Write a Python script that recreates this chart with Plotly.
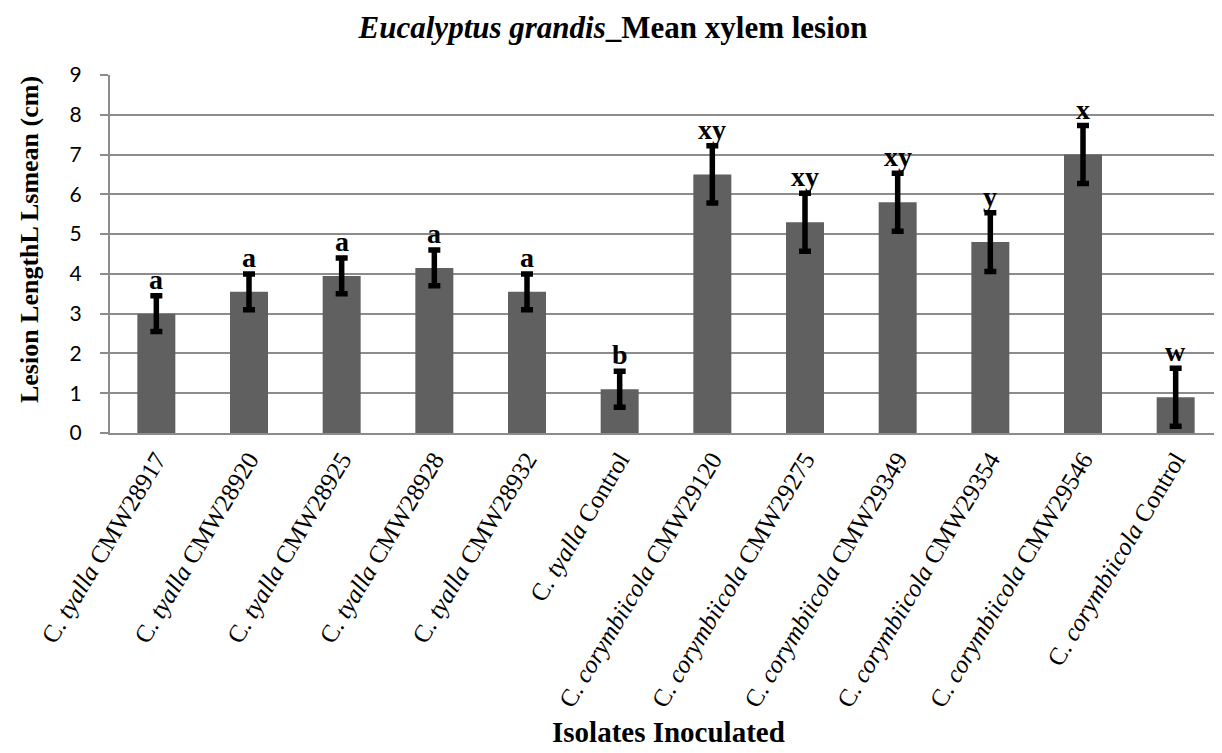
import plotly.graph_objects as go

categories = [
    "C. <i>tyalla</i> CMW28917", "C. <i>tyalla</i> CMW28920", "C. <i>tyalla</i> CMW28925",
    "C. <i>tyalla</i> CMW28928", "C. <i>tyalla</i> CMW28932", "C. <i>tyalla</i> Control",
    "C. <i>corymbiicola</i> CMW29120", "C. <i>corymbiicola</i> CMW29275",
    "C. <i>corymbiicola</i> CMW29349", "C. <i>corymbiicola</i> CMW29354",
    "C. <i>corymbiicola</i> CMW29546", "C. <i>corymbiicola</i> Control",
]
means = [3.0, 3.55, 3.95, 4.15, 3.55, 1.1, 6.5, 5.3, 5.8, 4.8, 7.0, 0.9]
errors = [0.45, 0.45, 0.45, 0.45, 0.45, 0.45, 0.72, 0.73, 0.73, 0.74, 0.73, 0.73]
letters = ["a", "a", "a", "a", "a", "b", "xy", "xy", "xy", "y", "x", "w"]
y_ticks = [0, 1, 2, 3, 4, 5, 6, 7, 8, 9]

serif = "Liberation Serif, Times New Roman, serif"

fig = go.Figure()
fig.add_trace(go.Bar(
    x=categories, y=means,
    marker=dict(color="#606060", line=dict(width=0)),
    width=0.41,
    error_y=dict(type="data", array=errors, visible=True,
                 color="black", thickness=5.5, width=6),
    showlegend=False,
))

for c, m, e, l in zip(categories, means, errors, letters):
    fig.add_annotation(x=c, y=m + e, text="<b>%s</b>" % l, showarrow=False,
                       yanchor="bottom", yshift=-1,
                       font=dict(family=serif, size=28, color="black"))

# axis titles as annotations for precise placement
fig.add_annotation(xref="paper", yref="paper", x=0.5018, y=-0.834,
                   text="<b>Isolates Inoculated</b>", showarrow=False,
                   xanchor="center", yanchor="middle",
                   font=dict(family=serif, size=29, color="black"))
fig.add_annotation(xref="paper", yref="paper", x=-0.0728, y=0.539,
                   text="<b>Lesion LengthL Lsmean (cm)</b>", showarrow=False,
                   textangle=-90, xanchor="center", yanchor="middle",
                   font=dict(family=serif, size=26, color="black"))

fig.update_layout(
    width=1214, height=745,
    paper_bgcolor="white", plot_bgcolor="white",
    margin=dict(l=102, r=0, t=67, b=320, autoexpand=False),
    title=dict(text="<b><i>Eucalyptus grandis</i>_Mean xylem lesion</b>",
               x=0.4984, xanchor="center", y=0.9745, yanchor="middle",
               font=dict(family=serif, size=31, color="black")),
)
fig.update_xaxes(
    automargin=False,
    tickangle=-59, tickfont=dict(family=serif, size=25, color="black"),
    showline=True, linecolor="#8c8c8c", linewidth=2,
    ticks="", showgrid=False,
)
fig.update_yaxes(
    automargin=False,
    range=[0, 9], tickvals=y_ticks,
    tickfont=dict(family="Lato, Open Sans, sans-serif", size=21, color="black"),
    showgrid=True, gridcolor="#8c8c8c", gridwidth=2,
    showline=True, linecolor="#8c8c8c", linewidth=2,
    ticks="outside", ticklen=8, tickcolor="#8c8c8c", tickwidth=2,
    ticklabelstandoff=14,
    zeroline=False,
)

fig.write_html("out.html")
